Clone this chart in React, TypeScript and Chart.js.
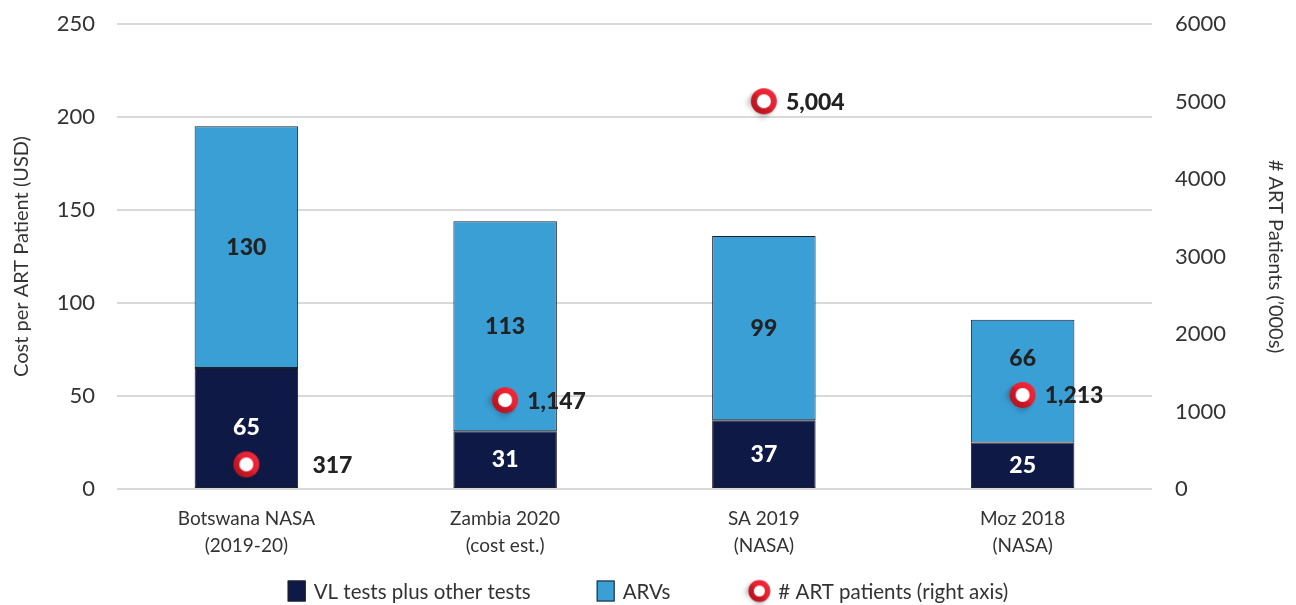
import React, { useEffect, useRef } from 'react';
import { Chart, registerables } from 'chart.js';

Chart.register(...registerables);

// ---- data ----
const categories: string[][] = [
  ['Botswana NASA', '(2019-20)'],
  ['Zambia 2020', '(cost est.)'],
  ['SA 2019', '(NASA)'],
  ['Moz 2018', '(NASA)'],
];
const vlTests = [65, 31, 37, 25];
const arvs = [130, 113, 99, 66];
const artPatients = [317, 1147, 5004, 1213];

const costMax = 250;
const costStep = 50;
const patientsMax = 6000;
const patientsStep = 1000;

const seriesNames = ['VL tests plus other tests', 'ARVs', '# ART patients (right axis)'];
const leftTitle = 'Cost per ART Patient (USD)';
const rightTitle = '# ART Patients (\u2019000s)';

// ---- styling ----
const NAVY = '#0e1a45';
const BLUE = '#3a9fd5';
const OUTLINE = '#1c1f2e';
const TEXT = '#333333';
const LABEL = '#222222';
const FONT = 'Lato, "Open Sans", sans-serif';

// nudges for value labels (pixels), per category
const arvLabelShift = [0, 0, 0, -23];
const patientLabelShift = [44, 0, 0, 0];

// ring marker with a soft long shadow toward the lower left
function makeRing(R: number, r: number): HTMLCanvasElement {
  const s = Math.ceil(R * 4.6);
  const c = document.createElement('canvas');
  c.width = s;
  c.height = s;
  const g = c.getContext('2d')!;
  const cx = s / 2;
  const cy = s / 2;
  const L = R * 1.3;
  const k = Math.SQRT1_2;
  const nx = k, ny = k; // perpendicular
  const dx = -k, dy = k; // shadow direction
  const ex = cx + dx * L, ey = cy + dy * L;

  g.save();
  g.filter = 'blur(2px)';
  const grad = g.createLinearGradient(cx, cy, ex, ey);
  grad.addColorStop(0, 'rgba(25,25,35,0.6)');
  grad.addColorStop(1, 'rgba(25,25,35,0)');
  g.fillStyle = grad;
  g.beginPath();
  g.moveTo(cx + nx * R * 0.95, cy + ny * R * 0.95);
  g.lineTo(ex + nx * R * 0.95, ey + ny * R * 0.95);
  g.lineTo(ex - nx * R * 0.95, ey - ny * R * 0.95);
  g.lineTo(cx - nx * R * 0.95, cy - ny * R * 0.95);
  g.closePath();
  g.fill();
  g.restore();

  const rg = g.createLinearGradient(cx + R * k, cy - R * k, cx - R * k, cy + R * k);
  rg.addColorStop(0, '#f0283a');
  rg.addColorStop(0.5, '#e61f2f');
  rg.addColorStop(0.56, '#cf1a28');
  rg.addColorStop(1, '#b8141f');
  g.fillStyle = rg;
  g.beginPath();
  g.arc(cx, cy, R, 0, Math.PI * 2);
  g.fill();

  g.fillStyle = '#ffffff';
  g.beginPath();
  g.arc(cx, cy, r, 0, Math.PI * 2);
  g.fill();
  return c;
}

const valueLabels = {
  id: 'valueLabels',
  afterDatasetsDraw(chart: any) {
    const ctx: CanvasRenderingContext2D = chart.ctx;
    ctx.save();
    ctx.font = `900 23px ${FONT}`;
    ctx.textBaseline = 'middle';
    ctx.textAlign = 'center';
    [0, 1].forEach((di) => {
      const meta = chart.getDatasetMeta(di);
      const data = chart.data.datasets[di].data as number[];
      meta.data.forEach((bar: any, i: number) => {
        const { x, y, base } = bar.getProps(['x', 'y', 'base'], true);
        const shift = di === 1 ? arvLabelShift[i] : 0;
        ctx.fillStyle = di === 0 ? '#ffffff' : LABEL;
        ctx.fillText(String(data[i]), x, (y + base) / 2 + shift);
      });
    });
    const pm = chart.getDatasetMeta(2);
    const pdata = chart.data.datasets[2].data as number[];
    ctx.textAlign = 'left';
    ctx.fillStyle = LABEL;
    pm.data.forEach((pt: any, i: number) => {
      const { x, y } = pt.getProps(['x', 'y'], true);
      ctx.fillText(pdata[i].toLocaleString('en-US'), x + 22 + patientLabelShift[i], y + 1);
    });
    ctx.restore();
  },
};

const bottomLegend = {
  id: 'bottomLegend',
  afterDraw(chart: any) {
    const ctx: CanvasRenderingContext2D = chart.ctx;
    const ds = chart.data.datasets;
    const fontPx = 20.5;
    const gap = 8;
    const spacings = [66, 78];
    const boxW = 18;
    const boxH = 21;
    const ringW = 22;
    const legendRing = chart.options.plugins.bottomLegend.ring as HTMLCanvasElement;
    ctx.save();
    ctx.font = `${fontPx}px ${FONT}`;
    ctx.textBaseline = 'middle';
    ctx.textAlign = 'left';
    const widths = ds.map((d: any, i: number) => (i < 2 ? boxW : ringW) + gap + ctx.measureText(d.label).width);
    const total = widths.reduce((a: number, b: number) => a + b, 0) + spacings[0] + spacings[1];
    let x = (chart.width - total) / 2;
    const cy = chart.height - 14;
    ds.forEach((d: any, i: number) => {
      if (i < 2) {
        ctx.fillStyle = d.backgroundColor;
        ctx.fillRect(x, cy - boxH / 2, boxW, boxH);
        ctx.strokeStyle = OUTLINE;
        ctx.lineWidth = 1;
        ctx.strokeRect(x + 0.5, cy - boxH / 2 + 0.5, boxW - 1, boxH - 1);
        x += boxW + gap;
      } else {
        ctx.drawImage(legendRing, x + ringW / 2 - legendRing.width / 2, cy - legendRing.height / 2);
        x += ringW + gap;
      }
      ctx.fillStyle = TEXT;
      ctx.fillText(d.label, x, cy + 1);
      x += ctx.measureText(d.label).width + (spacings[i] || 0);
    });
    ctx.restore();
  },
};

// keep the wide tick padding from pushing the plot area down
const trimVerticalPadding = (s: any) => {
  s.paddingTop = 0;
  s.paddingBottom = 0;
};

export default function App() {
  const ref = useRef<HTMLCanvasElement | null>(null);

  useEffect(() => {
    if (!ref.current) return;
    const ring = makeRing(13, 7);
    const smallRing = makeRing(11, 5.5);
    const tickFont = { family: FONT, size: 22 };
    const chart = new Chart(ref.current, {
      type: 'bar',
      data: {
        labels: categories,
        datasets: [
          {
            type: 'bar',
            label: seriesNames[0],
            data: vlTests,
            backgroundColor: NAVY,
            borderColor: OUTLINE,
            borderWidth: 1,
            borderSkipped: false,
            barPercentage: 0.8,
            categoryPercentage: 0.5,
            yAxisID: 'y',
            order: 2,
          },
          {
            type: 'bar',
            label: seriesNames[1],
            data: arvs,
            backgroundColor: BLUE,
            borderColor: OUTLINE,
            borderWidth: 1,
            borderSkipped: false,
            barPercentage: 0.8,
            categoryPercentage: 0.5,
            yAxisID: 'y',
            order: 2,
          },
          {
            type: 'line',
            label: seriesNames[2],
            data: artPatients,
            showLine: false,
            pointStyle: ring as any,
            pointRadius: 13,
            yAxisID: 'y1',
            order: 0,
          } as any,
        ],
      },
      plugins: [valueLabels, bottomLegend],
      options: {
        responsive: true,
        maintainAspectRatio: false,
        animation: false,
        layout: { padding: { top: 24, bottom: 40, left: 0, right: 0 } },
        plugins: {
          legend: { display: false },
          tooltip: { enabled: false },
          bottomLegend: { ring: smallRing },
        } as any,
        scales: {
          x: {
            stacked: true,
            grid: { display: false, drawTicks: false },
            border: { display: false },
            ticks: {
              color: TEXT,
              font: { family: FONT, size: 19, lineHeight: 1.4 },
              padding: 17,
              maxRotation: 0,
            },
            afterFit: (s: any) => {
              s.height = 76;
            },
          },
          y: {
            stacked: true,
            position: 'left',
            min: 0,
            max: costMax,
            ticks: { stepSize: costStep, color: TEXT, font: tickFont, padding: 22 },
            grid: { color: '#d9d9d9', lineWidth: 2, drawTicks: false },
            border: { display: false },
            title: {
              display: true,
              text: leftTitle,
              color: TEXT,
              font: { family: FONT, size: 20, lineHeight: 1.2 },
              padding: { top: 10, bottom: 0 },
            },
            afterFit: (s: any) => {
              s.width = 117;
              trimVerticalPadding(s);
            },
          },
          y1: {
            position: 'right',
            min: 0,
            max: patientsMax,
            ticks: {
              stepSize: patientsStep,
              color: TEXT,
              font: tickFont,
              padding: 23,
              callback: (v: any) => String(v),
            },
            grid: { display: false, drawTicks: false },
            border: { display: false },
            title: {
              display: true,
              text: rightTitle,
              color: TEXT,
              font: { family: FONT, size: 20, lineHeight: 1.2 },
              padding: { top: 9, bottom: 0 },
            },
            afterFit: (s: any) => {
              s.width = 144;
              trimVerticalPadding(s);
            },
          },
        },
      },
    });
    return () => chart.destroy();
  }, []);

  return (
    <div style={{ position: 'fixed', left: 0, top: 0, width: 1296, height: 605, background: '#fff' }}>
      <canvas ref={ref} />
    </div>
  );
}
